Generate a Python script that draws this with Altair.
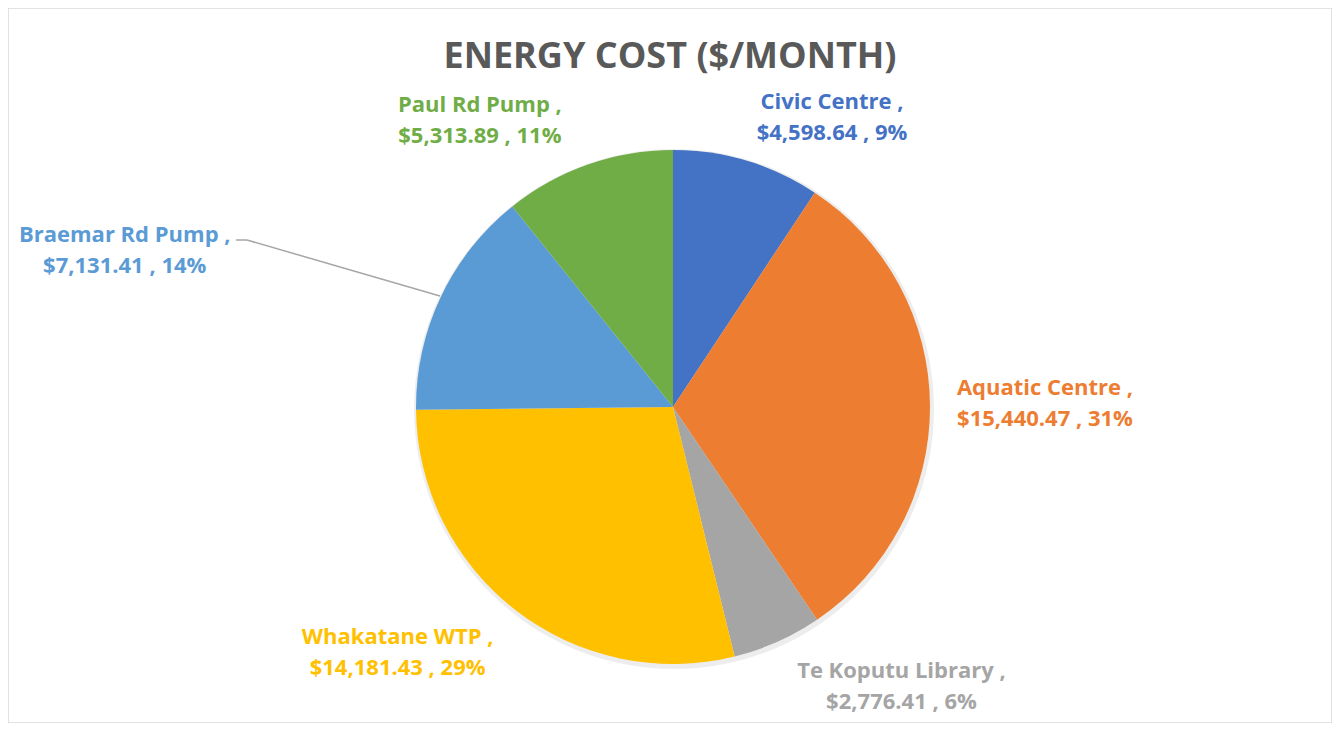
import math
import altair as alt
import pandas as pd

# ---- data ----
names = ["Civic Centre", "Aquatic Centre", "Te Koputu Library",
         "Whakatane WTP", "Braemar Rd Pump", "Paul Rd Pump"]
costs = [4598.64, 15440.47, 2776.41, 14181.43, 7131.41, 5313.89]
colors = ["#4472C4", "#ED7D31", "#A5A5A5", "#FFC000", "#5B9BD5", "#70AD47"]

df = pd.DataFrame({"name": names, "value": costs, "idx": list(range(len(names)))})
total = sum(costs)

W, H = 1324, 715
CX, CY = 665, 399      # pie centre inside the view
R = 257                # pie radius
FONT = "Open Sans"

color_scale = alt.Scale(domain=names, range=colors)

base = alt.Chart(df)

shadow = alt.Chart(pd.DataFrame({"a": [0]})).mark_arc(
    theta=0, theta2=2 * math.pi, radius=R + 3, color="#000000", opacity=0.07
).encode(x=alt.value(CX + 1), y=alt.value(CY + 2))

pie = base.mark_arc(radius=R).encode(
    theta=alt.Theta("value:Q", stack=True),
    order=alt.Order("idx:Q"),
    color=alt.Color("name:N", scale=color_scale, legend=None),
    x=alt.value(CX),
    y=alt.value(CY),
)

# label layout (style): per-label pixel offset from the slice's outer edge midpoint
label_offsets = {
    "Civic Centre": (85, -59),
    "Aquatic Centre": (115, -18),
    "Te Koputu Library": (124, 29),
    "Whakatane WTP": (-118, 27),
    "Braemar Rd Pump": (-316, -62),
    "Paul Rd Pump": (-108, -60),
}

lab_base = base.transform_window(
    cum="sum(value)", sort=[alt.SortField("idx")]
).transform_calculate(
    mid="datum.cum - datum.value / 2",
    pct=f"datum.value / {total}",
).transform_calculate(
    label="datum.name + ' ,\\n$' + format(datum.value, ',.2f') + ' , ' + format(datum.pct, '.0%')"
)

label_layers = []
for n, c in zip(names, colors):
    dx, dy = label_offsets[n]
    lay = lab_base.transform_filter(alt.datum.name == n).mark_text(
        font=FONT, fontSize=22, fontWeight="bold", color=c,
        align="center", baseline="middle", lineBreak="\n", lineHeight=31,
        dx=dx, dy=dy,
    ).encode(
        theta=alt.Theta("mid:Q", scale=alt.Scale(domain=[0, total], range=[0, 2 * math.pi])),
        radius=alt.value(R),
        text="label:N",
        x=alt.value(CX),
        y=alt.value(CY),
    )
    label_layers.append(lay)

one = alt.Chart(pd.DataFrame({"a": [0]}))
leader1 = one.mark_rule(color="#A6A6A6", strokeWidth=1.5).encode(
    x=alt.value(228), x2=alt.value(239), y=alt.value(232), y2=alt.value(232))
leader2 = one.mark_rule(color="#A6A6A6", strokeWidth=1.5).encode(
    x=alt.value(239), x2=alt.value(432), y=alt.value(232), y2=alt.value(288))

chart = alt.layer(shadow, pie, leader1, leader2, *label_layers).resolve_scale(
    theta="independent"
).properties(
    width=W, height=H, padding=0,
    autosize=alt.AutoSizeParams(type="none"),
    title=alt.TitleParams(
        text="ENERGY COST ($/MONTH)", font=FONT, fontSize=36, fontWeight="bold",
        color="#595959", anchor="middle", baseline="alphabetic", offset=0, dy=96,
    ),
).configure_view(stroke="#D9D9D9", strokeWidth=1.5)

chart.save("out.html", embed_options={"renderer": "svg", "actions": False})
